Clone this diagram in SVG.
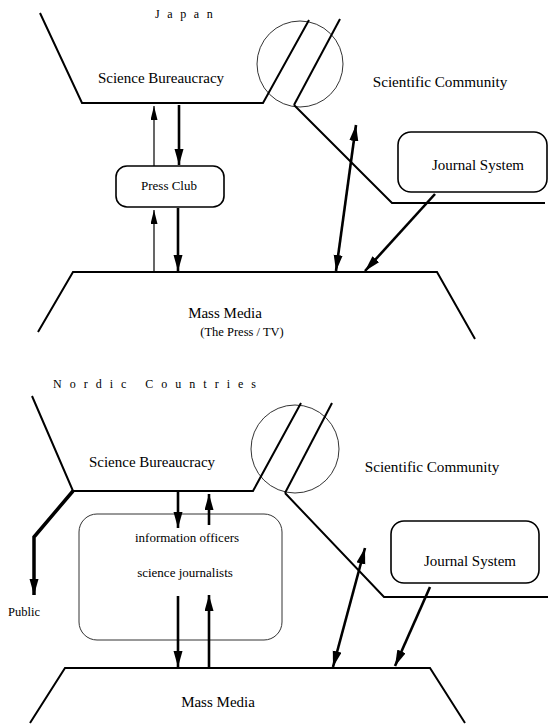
<svg xmlns="http://www.w3.org/2000/svg" width="551" height="725" viewBox="0 0 551 725">
<style>
.ln{fill:none;stroke:#000;stroke-width:2;stroke-linejoin:miter}
.circ{fill:none;stroke:#000;stroke-width:0.8}
.box{fill:#fff;stroke:#000;stroke-width:1.6}
.box2{fill:none;stroke:#333;stroke-width:1}
.thick{fill:none;stroke:#000;stroke-width:2.6}
.thin{fill:none;stroke:#000;stroke-width:1.2}
.t{font-family:"Liberation Serif","Times New Roman",serif;fill:#000}
</style>
<defs>
<marker id="ah" markerUnits="userSpaceOnUse" markerWidth="18" markerHeight="10" refX="16" refY="4.5" orient="auto-start-reverse" viewBox="0 0 18 10">
<path d="M0,0 L16,4.5 L0,9 z" fill="#000"/>
</marker>
<marker id="aht" markerUnits="userSpaceOnUse" markerWidth="16" markerHeight="8" refX="14" refY="3.5" orient="auto" viewBox="0 0 16 8">
<path d="M0,0 L14,3.5 L0,7 z" fill="#000"/>
</marker>
</defs>

<!-- JAPAN -->
<text class="t" x="155" y="18" font-size="12" letter-spacing="7.6">Japan</text>
<g id="jp-bureaucracy">
<polyline class="ln" points="40,13 82,103 263,103 309,20"/>
<text class="t" x="161" y="83" font-size="15" text-anchor="middle">Science Bureaucracy</text>
</g>
<g id="jp-community">
<circle class="circ" cx="300" cy="64" r="43"/>
<line class="ln" x1="294" y1="105" x2="340" y2="19"/>
<polyline class="ln" points="294,105 392,203 545,203"/>
<text class="t" x="440" y="87" font-size="15.2" text-anchor="middle">Scientific Community</text>
</g>
<g id="jp-pressclub">
<rect class="box" x="116" y="166" width="108" height="41" rx="11"/>
<text class="t" x="169" y="190" font-size="13" text-anchor="middle">Press Club</text>
</g>
<g id="jp-journal">
<rect class="box" x="398" y="132" width="149" height="60" rx="13"/>
<text class="t" x="478" y="170" font-size="15" text-anchor="middle">Journal System</text>
</g>
<g id="jp-massmedia">
<polyline class="ln" points="38,332 73,272 437,272 475,339"/>
<text class="t" x="225" y="318" font-size="15" text-anchor="middle">Mass Media</text>
<text class="t" x="242" y="336" font-size="12.5" text-anchor="middle">(The Press / TV)</text>
</g>
<g id="jp-connectors">
<line class="thin" x1="154" y1="166" x2="154" y2="106" marker-end="url(#aht)"/>
<line class="thick" x1="179" y1="105" x2="179" y2="165" marker-end="url(#ah)"/>
<line class="thin" x1="154" y1="272" x2="154" y2="210" marker-end="url(#aht)"/>
<line class="thick" x1="178" y1="208" x2="178" y2="271" marker-end="url(#ah)"/>
<line class="thick" x1="336" y1="271" x2="356" y2="125" marker-start="url(#ah)" marker-end="url(#ah)"/>
<line class="thick" x1="435" y1="194" x2="365" y2="271" marker-end="url(#ah)"/>
</g>

<!-- NORDIC -->
<text class="t" x="53" y="388" font-size="12" letter-spacing="8">Nordic  Countries</text>
<g id="no-bureaucracy">
<polyline class="ln" points="32,396 73,491 253,491 301,403"/>
<text class="t" x="152" y="467" font-size="15" text-anchor="middle">Science Bureaucracy</text>
</g>
<g id="no-community">
<circle class="circ" cx="295" cy="449" r="44"/>
<line class="ln" x1="285" y1="493" x2="332" y2="403"/>
<polyline class="ln" points="285,493 384,597 548,597"/>
<text class="t" x="432" y="472" font-size="15.2" text-anchor="middle">Scientific Community</text>
</g>
<g id="no-officers">
<rect class="box2" x="79" y="514" width="203" height="126" rx="18"/>
<text class="t" x="187" y="542" font-size="13" text-anchor="middle">information officers</text>
<text class="t" x="185" y="577" font-size="13" text-anchor="middle">science journalists</text>
</g>
<g id="no-journal">
<rect class="box" x="391" y="521" width="148" height="62" rx="13"/>
<text class="t" x="470" y="566" font-size="15" text-anchor="middle">Journal System</text>
</g>
<g id="no-massmedia">
<polyline class="ln" points="30,723 65,668 430,668 465,723"/>
<text class="t" x="218" y="707" font-size="15" text-anchor="middle">Mass Media</text>
</g>
<g id="no-public">
<text class="t" x="8" y="616" font-size="12.5">Public</text>
</g>
<g id="no-connectors">
<polyline points="73,491 34,537 34,595" fill="none" stroke="#000" stroke-width="3.5" marker-end="url(#ah)"/>
<line class="thick" x1="178" y1="492" x2="178" y2="528" marker-end="url(#ah)"/>
<line class="thick" x1="209" y1="525" x2="209" y2="494" marker-end="url(#ah)"/>
<line class="thick" x1="178" y1="596" x2="178" y2="667" marker-end="url(#ah)"/>
<line class="thick" x1="209" y1="667" x2="209" y2="595" marker-end="url(#ah)"/>
<line class="thick" x1="333" y1="667" x2="365" y2="548" marker-start="url(#ah)" marker-end="url(#ah)"/>
<line class="thick" x1="430" y1="587" x2="395" y2="666" marker-end="url(#ah)"/>
</g>
</svg>
